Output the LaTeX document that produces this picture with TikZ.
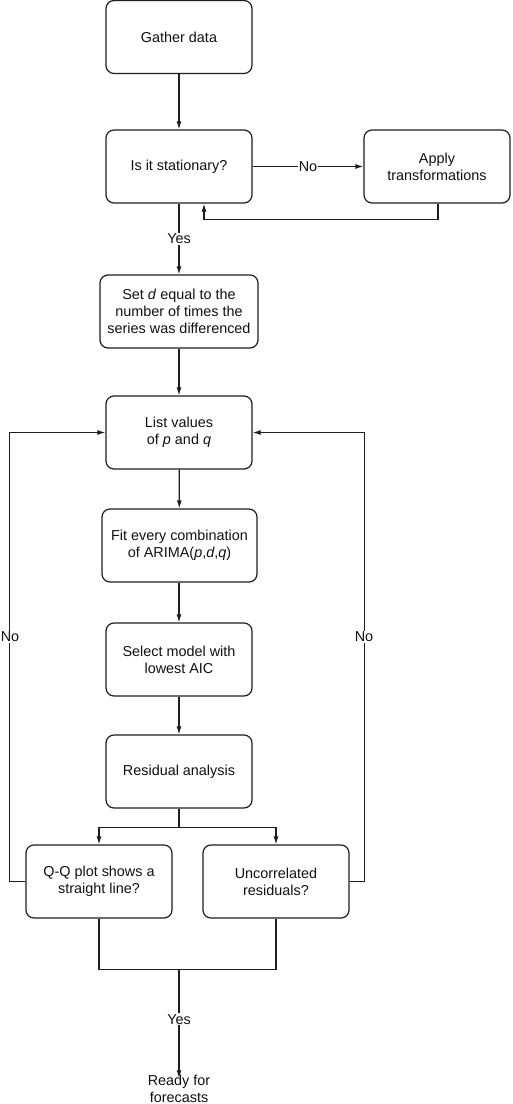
\documentclass[tikz,border=0pt]{standalone}
\usepackage{fontspec}
\setmainfont{Liberation Sans}
\usetikzlibrary{arrows.meta,calc}
\definecolor{linec}{HTML}{1E1E1E}
\definecolor{textc}{HTML}{111111}
\begin{document}
\begin{tikzpicture}[x=1pt,y=-1pt,
 box/.style={draw=linec, line width=1.2pt, rounded corners=8pt, minimum width=146pt, minimum height=73pt, align=center, font=\fontsize{14.4}{17.3}\selectfont, text=textc, inner sep=2pt},
 arr/.style={draw=linec, line width=1.2pt, -{Latex[length=8pt,width=5pt]}},
 ln/.style={draw=linec, line width=1.2pt},
 lbl/.style={fill=white, inner sep=1pt, font=\fontsize{14.4}{17.3}\selectfont, text=textc},
 plain/.style={align=center, inner sep=0pt, font=\fontsize{14.4}{16.5}\selectfont, text=textc}]
\useasboundingbox[fill=white] (0,0) rectangle (512,1104);

\node[box] (gather) at (179,37) {Gather data};
\node[box] (stat) at (179,166.5) {Is it stationary?};
\node[box] (apply) at (437,166.5) {Apply\\transformations};
\node[box, minimum width=158pt] (setd) at (179,311.5) {Set \textit{d} equal to the\\number of times the\\series was differenced};
\node[box] (list) at (179,432.5) {List values\\of \textit{p} and \textit{q}};
\node[box, minimum width=155pt] (fit) at (179.5,545.5) {Fit every combination\\of ARIMA(\textit{p},\textit{d},\textit{q})};
\node[box] (select) at (179,659.5) {Select model with\\lowest AIC};
\node[box] (resid) at (179,771.5) {Residual analysis};
\node[box] (qq) at (99,881.5) {Q-Q plot shows a\\straight line?};
\node[box] (unc) at (276,881.5) {Uncorrelated\\residuals?};
\node[plain] (ready) at (179,1089) {Ready for\\forecasts};

% main flow
\draw[arr] (gather) -- (stat);
\draw[arr] (stat) -- node[lbl] (lyes1) {Yes} (setd);
\draw[arr] (setd) -- (list);
\draw[arr] (list) -- (fit);
\draw[arr] ([xshift=-0.5pt]fit.south) -- (select);
\draw[arr] (select) -- (resid);

% stationarity loop
\draw[arr] (stat.east) -- node[lbl, pos=0.5] (lno1) {No} (apply.west);
\draw[arr] ([xshift=1pt]apply.south) -- ++(0,16) -| ([xshift=25pt]stat.south);

% branch to checks
\draw[ln] (resid.south) -- ++(0,19) coordinate (br);
\draw[arr] (br) -| (qq.north);
\draw[arr] (br) -| (unc.north);

% No loops back
\draw[arr] (qq.west) -- ++(-16,0) |- (list.west);
\draw[arr] (unc.east) -- ++(15,0) |- (list.east);
\node[lbl] (lno2) at (10,637) {No};
\node[lbl] (lno3) at (364,637) {No};

% merge to ready
\draw[ln] (qq.south) -- ++(0,51) -| (unc.south);
\coordinate (merge) at (179,969);
\draw[arr] (merge) -- node[lbl, pos=0.46] (lyes2) {Yes} ([yshift=-3pt]ready.north);
\end{tikzpicture}
\end{document}
